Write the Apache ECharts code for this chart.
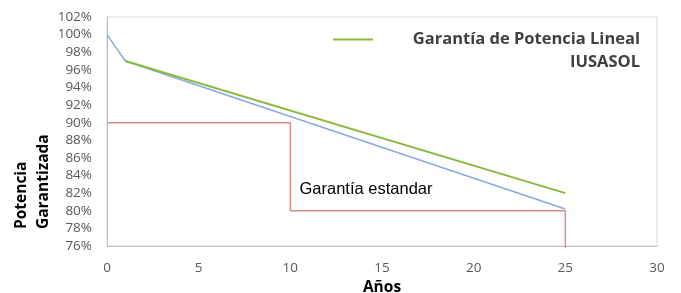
<!DOCTYPE html>
<html>
<head>
<meta charset="utf-8">
<script src="https://cdn.jsdelivr.net/npm/echarts@6/dist/echarts.min.js"></script>
<style>
  html, body { margin: 0; padding: 0; background: #fff; }
  #chart { width: 681px; height: 293px; }
</style>
</head>
<body>
<div id="chart"></div>
<script>
// datos
const lineal = [[1, 97], [25, 82]];          // Garantía de Potencia Lineal IUSASOL
const real = [[0, 100], [1, 97], [25, 80.2]]; // linea azul
const estandar = [[0, 90], [10, 90], [10, 80], [25, 80], [25, 75.8]]; // garantía estandar
const legendName = 'Garantía de Potencia Lineal';
const legendSub = 'IUSASOL';
const estandarLabel = 'Garantía estandar';

const chart = echarts.init(document.getElementById('chart'), null, { renderer: 'canvas' });

const option = {
  animation: false,
  grid: {
    left: 107, right: 24, top: 17, bottom: 47,
    outerBoundsMode: 'none',
    show: true, borderColor: '#d9d9d9', borderWidth: 1
  },
  legend: {
    data: [legendName],
    left: 333, top: 31, padding: 0,
    icon: 'rect', itemWidth: 40, itemHeight: 2,
    formatter: function (name) {
      return '{a|' + name + '}\n{b|' + legendSub + '}';
    },
    textStyle: {
      padding: [23, 0, 0, 35],
      rich: {
        a: { width: 227, align: 'right', fontFamily: 'Open Sans', fontWeight: 'bold', fontSize: 16.5, color: '#404040', lineHeight: 23 },
        b: { width: 227, align: 'right', fontFamily: 'Open Sans', fontWeight: 'bold', fontSize: 16.5, color: '#404040', lineHeight: 23 }
      }
    }
  },
  xAxis: {
    type: 'value', min: 0, max: 30, interval: 5,
    name: 'Años', nameLocation: 'middle', nameGap: 30,
    nameTextStyle: { fontFamily: 'Open Sans', fontWeight: 'bold', fontSize: 15.5, color: '#000' },
    axisLine: { lineStyle: { color: '#bfbfbf' } },
    axisTick: { show: false },
    splitLine: { show: false },
    axisLabel: { margin: 15, fontFamily: 'Open Sans', fontSize: 13.5, color: '#595959' }
  },
  yAxis: {
    type: 'value', min: 76, max: 102, interval: 2,
    axisLine: { show: true, lineStyle: { color: '#bfbfbf' } },
    axisTick: { show: false },
    splitLine: { show: false },
    axisLabel: { margin: 15, fontFamily: 'Open Sans', fontSize: 13.5, color: '#595959', formatter: '{value}%' }
  },
  graphic: [{
    type: 'text', x: 33, y: 229, rotation: Math.PI / 2,
    style: {
      text: 'Potencia\nGarantizada', align: 'left', verticalAlign: 'middle',
      fontFamily: 'Open Sans', fontWeight: 'bold', fontSize: 15.5, lineHeight: 22, fill: '#000'
    }
  }],
  series: [
    {
      name: 'estandar', type: 'line', data: estandar, showSymbol: false, clip: false,
      lineStyle: { color: '#e08c8c', width: 1.5 }, itemStyle: { color: '#e08c8c' },
      markPoint: {
        symbol: 'circle', symbolSize: 0,
        data: [{ coord: [10.5, 82.4] }],
        label: { show: true, position: 'right', distance: 0, formatter: estandarLabel,
          fontFamily: '"Liberation Sans", Arial, sans-serif', fontSize: 16.5, color: '#000' }
      }
    },
    {
      name: 'real', type: 'line', data: real, showSymbol: false,
      lineStyle: { color: '#86aadc', width: 1.5 }, itemStyle: { color: '#86aadc' }
    },
    {
      name: legendName, type: 'line', data: lineal, showSymbol: false,
      lineStyle: { color: '#8db842', width: 2 }, itemStyle: { color: '#8db842' }
    }
  ]
};

chart.setOption(option);
</script>
</body>
</html>
